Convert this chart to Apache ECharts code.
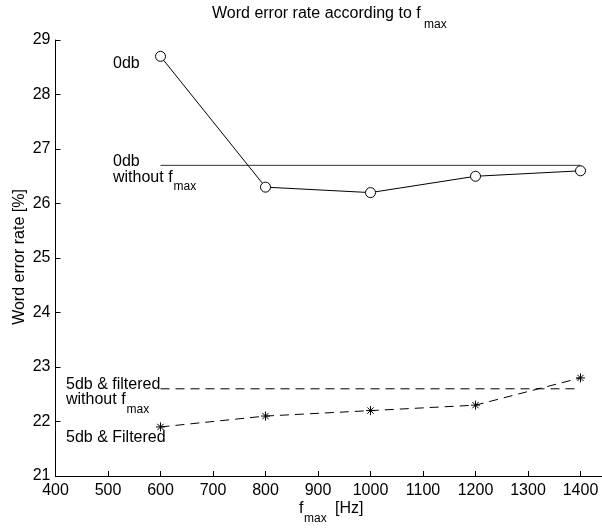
<!DOCTYPE html>
<html>
<head>
<meta charset="utf-8">
<script src="https://cdn.jsdelivr.net/npm/echarts@6/dist/echarts.min.js"></script>
<style>
  html, body { margin: 0; padding: 0; background: #fff; }
  #chart { width: 602px; height: 529px; }
</style>
</head>
<body>
<div id="chart"></div>
<script>
// Frequencies (Hz) at which the word error rate was measured
const fmax = [600, 800, 1000, 1200, 1400];
// Word error rate [%] per condition
const wer0db = [28.7, 26.3, 26.2, 26.5, 26.6];
const wer0dbBaseline = [26.7, 26.7];          // 0db without f_max
const wer5dbFiltered = [21.9, 22.1, 22.2, 22.3, 22.8];
const wer5dbBaseline = [22.6, 22.6];          // 5db & filtered without f_max
const baselineRange = [600, 1400];
// Axis ranges and tick spacing
const xRange = [400, 1500], xStep = 100;
const yRange = [21, 29], yStep = 1;

const FONT = 'Liberation Sans, Arial, Helvetica, sans-serif';
const pairs = (xs, ys) => xs.map((x, i) => [x, ys[i]]);

// eight-armed asterisk marker
const asterisk = 'path://M5,0L5,10M0,5L10,5M1.5,1.5L8.5,8.5M1.5,8.5L8.5,1.5';

function txt(text, x, y, size) {
  return {
    type: 'text',
    x: x, y: y,
    style: {
      text: text,
      font: size + 'px ' + FONT,
      fill: '#000',
      align: 'left',
      verticalAlign: 'middle'
    },
    z: 100
  };
}

const chart = echarts.init(document.getElementById('chart'), null, { renderer: 'canvas' });

chart.setOption({
  backgroundColor: '#fff',
  animation: false,
  grid: {
    left: 55.5, top: 40, width: 577.5, height: 436,
    containLabel: false, outerBoundsMode: 'none'
  },
  xAxis: {
    type: 'value',
    min: xRange[0], max: xRange[1], interval: xStep,
    axisLine: { show: true, lineStyle: { color: '#000', width: 1 } },
    axisTick: { show: true, inside: true, length: 5, lineStyle: { color: '#000' } },
    axisLabel: {
      color: '#000', fontSize: 16, fontFamily: FONT, margin: 7,
      hideOverlap: false, formatter: v => String(v)
    },
    splitLine: { show: false }
  },
  yAxis: {
    type: 'value',
    min: yRange[0], max: yRange[1], interval: yStep,
    axisLine: { show: true, lineStyle: { color: '#000', width: 1 } },
    axisTick: { show: true, inside: true, length: 5, lineStyle: { color: '#000' } },
    axisLabel: { color: '#000', fontSize: 16, fontFamily: FONT, margin: 5, formatter: v => String(v) },
    splitLine: { show: false }
  },
  series: [
    {
      name: '0db',
      type: 'line',
      data: pairs(fmax, wer0db),
      symbol: 'circle',
      symbolSize: 10,
      lineStyle: { color: '#000', width: 1 },
      itemStyle: { color: '#fff', borderColor: '#000', borderWidth: 1 },
      z: 3
    },
    {
      name: '0db without fmax',
      type: 'line',
      data: pairs(baselineRange, wer0dbBaseline),
      symbol: 'none',
      lineStyle: { color: '#333', width: 1 },
      z: 2
    },
    {
      name: '5db & filtered without fmax',
      type: 'line',
      data: pairs(baselineRange, wer5dbBaseline),
      symbol: 'none',
      lineStyle: { color: '#000', width: 1, type: [9, 6] },
      z: 2
    },
    {
      name: '5db & Filtered',
      type: 'line',
      data: pairs(fmax, wer5dbFiltered),
      symbol: asterisk,
      symbolSize: 9,
      lineStyle: { color: '#000', width: 1, type: [9, 6] },
      itemStyle: { color: '#000', borderColor: '#000', borderWidth: 1 },
      z: 3
    }
  ],
  graphic: [
    // title
    txt('Word error rate according to f', 212, 14, 16),
    txt('max', 424, 25, 12),
    // axis names
    txt('f', 299, 509, 16),
    txt('max', 304, 519, 12),
    txt('[Hz]', 335, 509, 16),
    {
      type: 'text', x: 20, y: 257, rotation: Math.PI / 2, z: 100,
      style: {
        text: 'Word error rate [%]', font: '16px ' + FONT, fill: '#000',
        align: 'center', verticalAlign: 'middle'
      }
    },
    // curve annotations
    txt('0db', 113, 64, 16),
    txt('0db', 113, 162, 16),
    txt('without f', 113, 178, 16),
    txt('max', 173.5, 187, 12),
    txt('5db & filtered', 66, 385, 16),
    txt('without f', 66, 400, 16),
    txt('max', 126.5, 409.5, 12),
    txt('5db & Filtered', 66, 438, 16)
  ]
});
</script>
</body>
</html>
